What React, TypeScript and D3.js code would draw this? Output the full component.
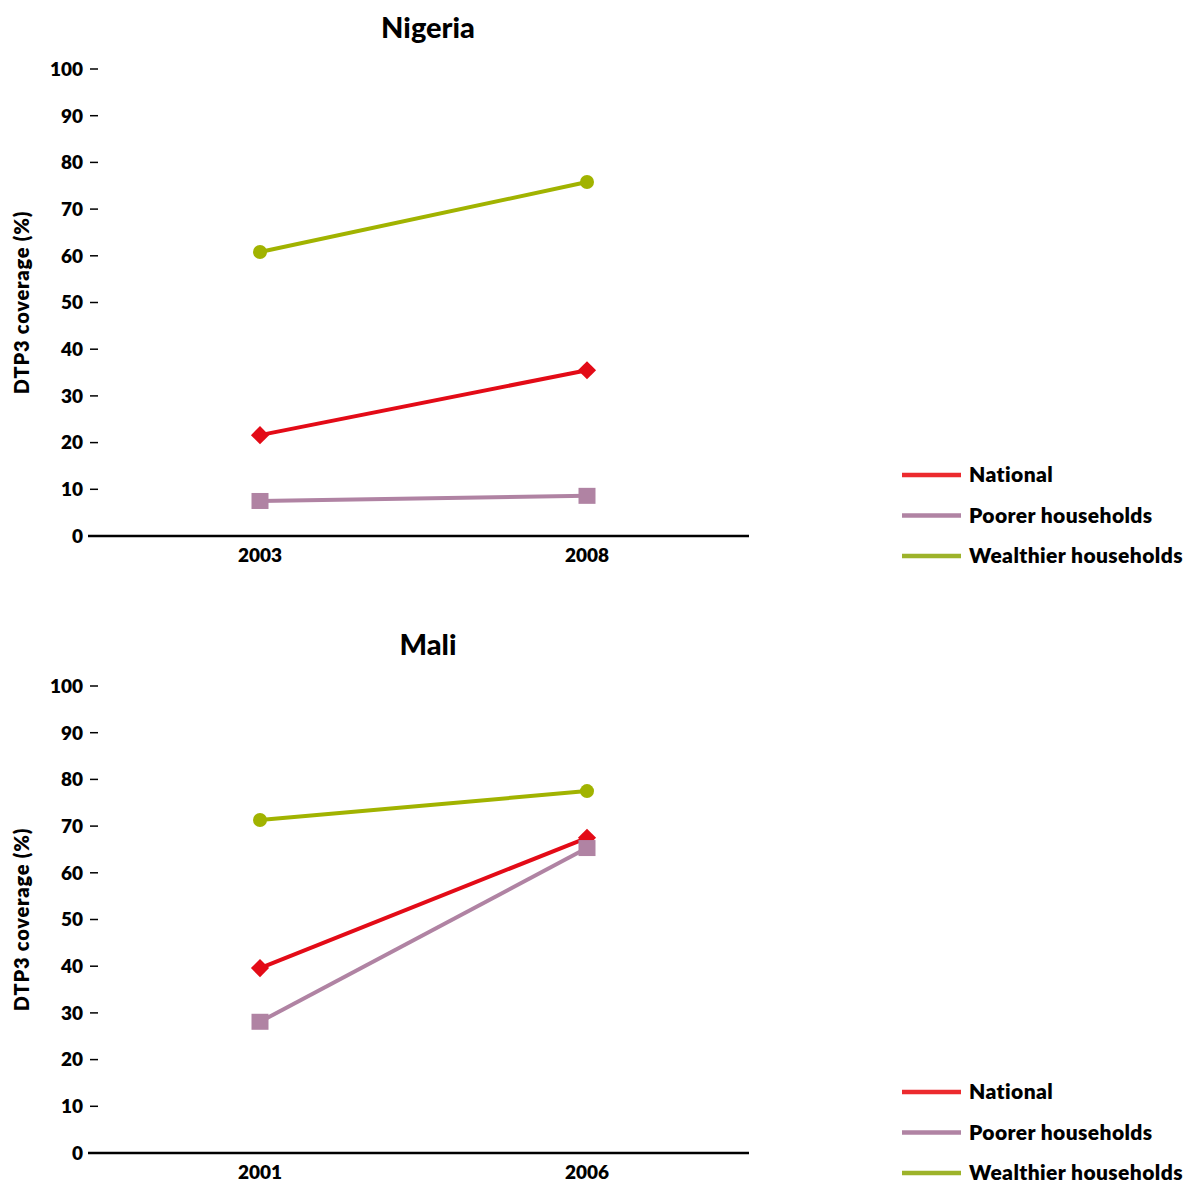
import React from "react";
import * as d3 from "d3";

const seriesNames = ["National", "Poorer households", "Wealthier households"];
const seriesColors = ["#e30b17", "#b083a3", "#a1b300"];
const legendColors = ["#ec2a2e", "#b083a3", "#9db32a"];
const seriesMarkers = ["diamond", "square", "circle"];

const nigeriaYears = ["2003", "2008"];
const nigeriaNational = [21.6, 35.5];
const nigeriaPoorer = [7.5, 8.6];
const nigeriaWealthier = [60.8, 75.8];

const maliYears = ["2001", "2006"];
const maliNational = [39.6, 67.5];
const maliPoorer = [28.1, 65.3];
const maliWealthier = [71.3, 77.5];

const yTicks = [0, 10, 20, 30, 40, 50, 60, 70, 80, 90, 100];
const yTitle = "DTP3 coverage (%)";

const FONT = "Lato, 'Open Sans', sans-serif";

type PanelProps = {
  title: string;
  years: string[];
  series: number[][];
  top: number;
};

function Panel({ title, years, series, top }: PanelProps) {
  const y = d3.scaleLinear().domain([0, 100]).range([top + 467, top]);
  const x = d3.scalePoint<string>().domain(years).range([260, 587]);
  const line = d3
    .line<[string, number]>()
    .x((d) => x(d[0]) as number)
    .y((d) => y(d[1]));
  const base = y(0);
  return (
    <g>
      <text x={428} y={top - 31} textAnchor="middle" fontSize={29} fontWeight={900} fontFamily={FONT}>
        {title}
      </text>
      <text
        transform={`translate(29,${(top + base) / 2}) rotate(-90)`}
        textAnchor="middle"
        fontSize={20}
        fontWeight={800}
        letterSpacing={0.8}
        fontFamily={FONT}
      >
        {yTitle}
      </text>
      {yTicks.map((t) => (
        <g key={t}>
          {t > 0 && <line x1={90} x2={98} y1={y(t)} y2={y(t)} stroke="#000" strokeWidth={1.5} />}
          <text x={83} y={y(t)} dy="0.36em" textAnchor="end" fontSize={19} fontWeight={800} fontFamily={FONT}>
            {t}
          </text>
        </g>
      ))}
      <line x1={88} x2={749} y1={base} y2={base} stroke="#000" strokeWidth={2.5} />
      {years.map((yr) => (
        <text key={yr} x={x(yr)} y={base + 26} textAnchor="middle" fontSize={19} fontWeight={800} fontFamily={FONT}>
          {yr}
        </text>
      ))}
      {series.map((vals, i) => {
        const pts: [string, number][] = years.map((yr, j) => [yr, vals[j]]);
        return (
          <g key={i}>
            <path d={line(pts) || ""} fill="none" stroke={seriesColors[i]} strokeWidth={4} />
            {pts.map((p, j) => {
              const cx = x(p[0]) as number;
              const cy = y(p[1]);
              const m = seriesMarkers[i];
              if (m === "circle") return <circle key={j} cx={cx} cy={cy} r={7} fill={seriesColors[i]} />;
              if (m === "square")
                return <rect key={j} x={cx - 8.5} y={cy - 8} width={17} height={16} fill={seriesColors[i]} />;
              const s = d3.symbol().type(d3.symbolDiamond2).size(210)();
              return <path key={j} d={s || ""} transform={`translate(${cx},${cy})`} fill={seriesColors[i]} />;
            })}
          </g>
        );
      })}
      {seriesNames.map((n, i) => {
        const ly = base - 61 + i * 40.5;
        return (
          <g key={n}>
            <line x1={902} x2={961} y1={ly} y2={ly} stroke={legendColors[i]} strokeWidth={4.5} />
            <text x={969} y={ly} dy="0.34em" fontSize={21} fontWeight={800} letterSpacing={0.4} fontFamily={FONT}>
              {n}
            </text>
          </g>
        );
      })}
    </g>
  );
}

export default function App() {
  return (
    <svg width={1189} height={1182} style={{ position: "absolute", left: 0, top: 0, background: "#fff" }}>
      <rect width={1189} height={1182} fill="#fff" />
      <Panel title="Nigeria" years={nigeriaYears} series={[nigeriaNational, nigeriaPoorer, nigeriaWealthier]} top={69} />
      <Panel title="Mali" years={maliYears} series={[maliNational, maliPoorer, maliWealthier]} top={686} />
    </svg>
  );
}
